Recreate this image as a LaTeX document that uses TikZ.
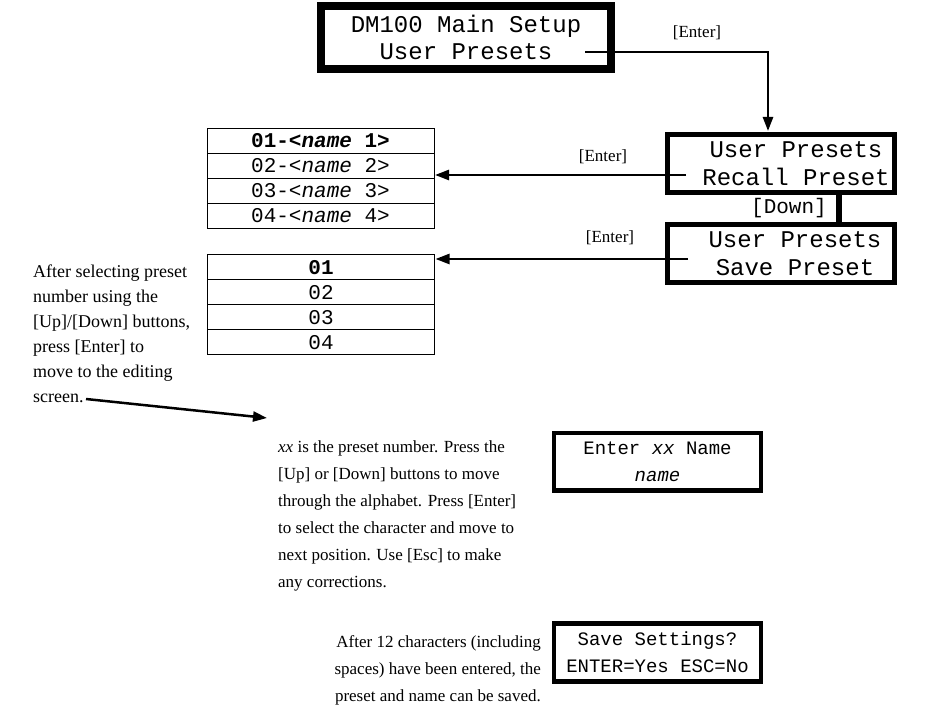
\documentclass[tikz,border=0pt]{standalone}
\usepackage{fontspec}
\setmainfont{Liberation Serif}
\setmonofont{Liberation Mono}
\usetikzlibrary{positioning,arrows.meta}

\begin{document}
\begin{tikzpicture}[x=1pt, y=-1pt,
    lcd/.style={draw, line width=5pt, inner sep=0pt, align=center,
                minimum width=227pt, minimum height=58pt,
                font=\fontsize{24}{28}\selectfont\ttfamily},
    lcdtext/.style={inner sep=0pt, align=center, font=\fontsize{24}{28}\selectfont\ttfamily},
    smalllcd/.style={lcd, line width=4.5pt, minimum width=207pt, minimum height=57.5pt,
                font=\fontsize{19}{27}\selectfont\ttfamily},
    listrow/.style={draw, line width=1pt, inner sep=0pt, outer sep=0pt,
                minimum width=227pt, minimum height=25pt,
                font=\fontsize{21}{22}\selectfont\ttfamily},
    note/.style={inner sep=0pt, align=left, font=\fontsize{17}{27}\selectfont},
    keylabel/.style={inner sep=0pt, font=\fontsize{17}{20}\selectfont},
    conn/.style={line width=2.5pt, -{Triangle[length=14pt,width=10pt]}}
  ]
  \useasboundingbox (0,0) rectangle (930,708);

  % displays
  \node[lcd, line width=8pt, minimum width=290pt, minimum height=63pt,
        font=\fontsize{24}{27}\selectfont\ttfamily] (setup) at (466,37.5) {DM100 Main Setup\\User Presets};
  \node[lcd] (recall) at (781,163.5) {};
  \node[lcdtext] (recalltext) at ([xshift=15pt]recall.center) {User Presets\\Recall Preset};
  \node[lcd] (save) at (781,253.5) {};
  \node[lcdtext] (savetext) at ([xshift=14pt]save.center) {User Presets\\Save Preset};
  \node[smalllcd] (entername) at (657.5,462) {Enter \textit{xx} Name\\\textit{name}};
  \node[smalllcd] (savesettings) at (657.5,652.5) {Save Settings?\\ENTER=Yes ESC=No};

  % preset lists
  \node[listrow] (name1) at (320.5,141) {\textbf{01-<\textit{name} 1>}};
  \node[listrow, below=0pt of name1] (name2) {02-<\textit{name} 2>};
  \node[listrow, below=0pt of name2] (name3) {03-<\textit{name} 3>};
  \node[listrow, below=0pt of name3] (name4) {04-<\textit{name} 4>};

  \node[listrow] (num1) at (321,267.5) {\textbf{01}};
  \node[listrow, below=0pt of num1] (num2) {02};
  \node[listrow, below=0pt of num2] (num3) {03};
  \node[listrow, below=0pt of num3] (num4) {04};

  % keys
  \coordinate (setupin) at (585,52);
  \coordinate (recalltop) at (768,131);
  \draw[conn] (setupin) -| (recalltop);
  \node[keylabel] (enter1) at (697,33) {[Enter]};

  \coordinate (recallin) at (686,175);
  \draw[conn, shorten >=1pt] (recallin) -- (recallin -| name2.east);
  \node[keylabel] (enter2) at (603,157) {[Enter]};

  \draw[line width=6pt] ([xshift=58pt]recall.south) -- ([xshift=58pt]save.north);
  \node[keylabel, font=\fontsize{21}{24}\selectfont\ttfamily] (downkey) at (789,208) {[Down]};

  \coordinate (savein) at (688,259);
  \draw[conn, shorten >=1pt] (savein) -- (savein -| num1.east);
  \node[keylabel] (enter3) at (610,238) {[Enter]};

  % notes
  \node[note, anchor=north west, font=\fontsize{18}{25}\selectfont] (selectnote) at (33,265)
    {After selecting preset\\number using the\\{}[Up]/[Down] buttons,\\press [Enter] to\\move to the editing\\screen.};
  \node[note, anchor=north west] (editnote) at (278,441)
    {\textit{xx} is the preset number. Press the\\{}[Up] or [Down] buttons to move\\through the alphabet. Press [Enter]\\to select the character and move to\\next position. Use [Esc] to make\\any corrections.};
  \node[note, anchor=north east, align=right] (savenote) at (541,635)
    {After 12 characters (including\\spaces) have been entered, the\\preset and name can be saved.};

  \coordinate (screenend) at (86,399);
  \coordinate (edittip) at (267,418);
  \draw[conn] (screenend) -- (edittip);
\end{tikzpicture}
\end{document}
